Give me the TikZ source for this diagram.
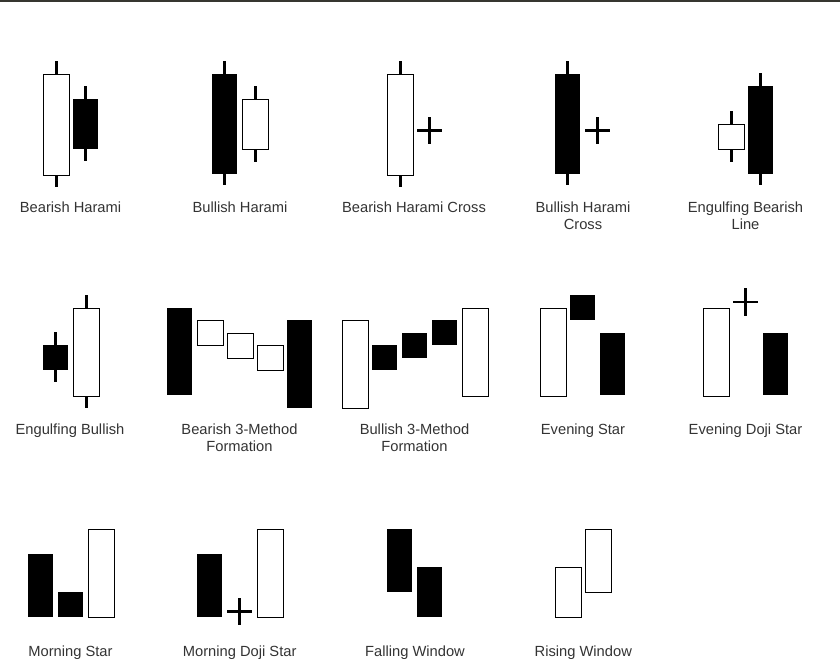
\documentclass[tikz,border=0pt]{standalone}
\usepackage{fontspec}
\setmainfont{Liberation Sans}
\usepackage{tikz}
\definecolor{lblgray}{RGB}{51,51,51}
\definecolor{rulegray}{RGB}{54,54,48}

\begin{document}
\begin{tikzpicture}[x=1pt, y=-1pt, bull/.style={rectangle, draw=black, fill=white, line width=1pt, inner sep=0pt, minimum width=25.4pt, minimum height=#1pt}, bear/.style={bull=#1, fill=black, minimum width=24pt}, wick/.style={line width=2.7pt}, doji/.style={line width=2.7pt}, lbl/.style={anchor=north, inner sep=0pt, align=center, text=lblgray, font=\fontsize{14.7}{17}\selectfont}]
			\useasboundingbox (0,0) rectangle (840,667);
			\draw[rulegray, line width=1.5pt] (0,0.75) -- (840,0.75);
			
			\node[bull=100.7] (bh1) at (56.3,124.9){};
			\node[bear=49] (bh2) at (85.5,124){};
			\node[bear=98.7] (uh1) at (224.5,123.9){};
			\node[bull=50.3] (uh2) at (255.5,124.7){};
			\node[bull=100.7] (bc1) at (400.3,124.9){};
			\coordinate (bc2) at (429.5,130.7);
			\node[bear=98.7] (uc1) at (567.7,123.9){};
			\coordinate (uc2) at (597.5,130.7);
			\node[bull=25.3] (eb1) at (731.5,137.2){};
			\node[bear=87] (eb2) at (760.5,129.7){};
			
			\node[bear=24] (gb1) at (55.5,357.5){};
			\node[bull=87.4] (gb2) at (86.3,352.5){};
			\node[bear=86] (dm1) at (179.5,351.5){};
			\node[bull=25.3] (dm2) at (210.5,333.2){};
			\node[bull=25.3] (dm3) at (240.5,346.2){};
			\node[bull=25.3] (dm4) at (270.5,358.2){};
			\node[bear=86.7] (dm5) at (299.5,363.9){};
			\node[bull=88.3] (um1) at (355.5,364.7){};
			\node[bear=24] (um2) at (384.5,357.5){};
			\node[bear=24] (um3) at (414.5,345.5){};
			\node[bear=24] (um4) at (444.5,332.5){};
			\node[bull=87.4] (um5) at (475.5,352.5){};
			\node[bull=87.4] (es1) at (553.5,352.5){};
			\node[bear=24] (es2) at (582.5,307.5){};
			\node[bear=61] (es3) at (612.5,364){};
			\node[bull=87.4] (ed1) at (716.5,352.5){};
			\coordinate (ed2) at (745.5,302);
			\node[bear=61] (ed3) at (775.5,364){};
			
			\node[bear=61.7] (ms1) at (40.5,585.3){};
			\node[bear=23.7] (ms2) at (70.5,604.3){};
			\node[bull=88] (ms3) at (101.5,573.8){};
			\node[bear=61.7] (md1) at (209.7,585.3){};
			\coordinate (md2) at (239.5,611.7);
			\node[bull=88] (md3) at (270.5,573.8){};
			\node[bear=62] (fw1) at (399.5,560.5){};
			\node[bear=49] (fw2) at (429.5,591.7){};
			\node[bull=50] (rw1) at (568.5,592.8){};
			\node[bull=63] (rw2) at (598.5,561.3){};
			
			\foreach \c in {bh1,bh2,uh1,uh2,bc1,uc1,eb1,eb2,gb1,gb2}
				\draw[wick] (\c.north) -- ++(0,-13) (\c.south) -- ++(0,11.5);
			\foreach \c in {bc2,uc2,ed2,md2}
				\draw[doji] (\c) ++(-12.5,0) -- ++(25,0) (\c) ++(0,-13.7) -- ++(0,27.4);
			
			\node[lbl] (lbh) at (70.5,201.3){Bearish Harami};
			\node[lbl] (luh) at (240,201.3){Bullish Harami};
			\node[lbl] (lbc) at (414,201.3){Bearish Harami Cross};
			\node[lbl] (luc) at (583,201.3){Bullish Harami\\Cross};
			\node[lbl] (leb) at (745.5,201.3){Engulfing Bearish\\Line};
			\node[lbl] (lgb) at (70,423.3){Engulfing Bullish};
			\node[lbl] (ldm) at (239.5,423.3){Bearish 3-Method\\Formation};
			\node[lbl] (lum) at (414.5,423.3){Bullish 3-Method\\Formation};
			\node[lbl] (les) at (583,423.3){Evening Star};
			\node[lbl] (led) at (745.5,423.3){Evening Doji Star};
			\node[lbl] (lms) at (70.5,645.3){Morning Star};
			\node[lbl] (lmd) at (239.7,645.3){Morning Doji Star};
			\node[lbl] (lfw) at (415,645.3){Falling Window};
			\node[lbl] (lrw) at (583.3,645.3){Rising Window};
\end{tikzpicture}
\end{document}
